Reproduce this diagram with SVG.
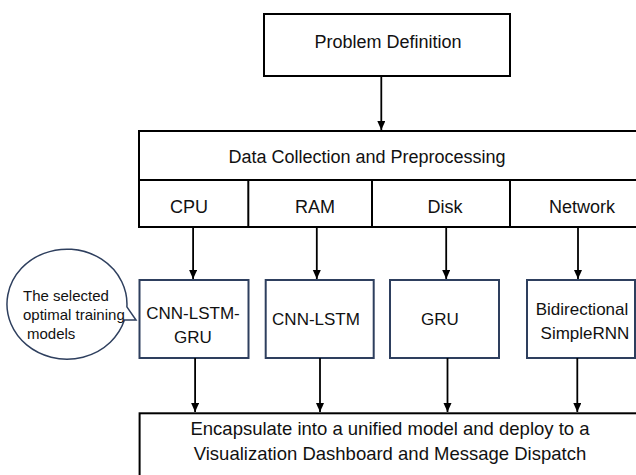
<svg xmlns="http://www.w3.org/2000/svg" width="636" height="475" viewBox="0 0 636 475">
<defs>
<style>
.box{fill:#fff;stroke:#000;stroke-width:2}
.mbox{fill:#fff;stroke:#2e3f5e;stroke-width:2}
.div{fill:none;stroke:#000;stroke-width:2}
.t{font-family:"Liberation Sans",Arial,sans-serif;fill:#111;text-anchor:middle}
.t18{font-size:18px}
.t17{font-size:17px}
.t15{font-size:15px;text-anchor:start}
.edge{fill:none;stroke:#000;stroke-width:1.8}
</style>
<marker id="ah" markerUnits="userSpaceOnUse" markerWidth="10" markerHeight="9" refX="9" refY="4" orient="auto">
<path d="M0,0 L9,4 L0,8 Z" fill="#000"/>
</marker>
</defs>
<rect width="636" height="475" fill="#fff"/>

<g id="problem-definition">
<rect class="box" x="264" y="14" width="246" height="62"/>
<text class="t t18" x="388" y="48">Problem Definition</text>
</g>

<g id="data-collection">
<rect class="box" x="139" y="131" width="510" height="96"/>
<line class="div" x1="139" y1="180" x2="649" y2="180"/>
<line class="div" x1="248.3" y1="180" x2="248.3" y2="227"/>
<line class="div" x1="372" y1="180" x2="372" y2="227"/>
<line class="div" x1="510" y1="180" x2="510" y2="227"/>
<text class="t t18" x="367" y="163">Data Collection and Preprocessing</text>
</g>
<g id="cpu"><text class="t t18" x="189" y="213">CPU</text></g>
<g id="ram"><text class="t t18" x="315" y="213">RAM</text></g>
<g id="disk"><text class="t t18" x="445" y="213">Disk</text></g>
<g id="network"><text class="t t18" x="582" y="213">Network</text></g>

<g id="cnn-lstm-gru">
<rect class="mbox" x="139.5" y="280" width="109" height="78"/>
<text class="t t17" x="193" y="319">CNN-LSTM-</text>
<text class="t t17" x="193" y="343">GRU</text>
</g>
<g id="cnn-lstm">
<rect class="mbox" x="265.7" y="280" width="108" height="78"/>
<text class="t t17" x="316" y="325">CNN-LSTM</text>
</g>
<g id="gru">
<rect class="mbox" x="390" y="280" width="109" height="78"/>
<text class="t t17" x="440" y="325">GRU</text>
</g>
<g id="bidirectional-simplernn">
<rect class="mbox" x="527" y="280" width="108" height="78"/>
<text class="t t17" x="582" y="315">Bidirectional</text>
<text class="t t17" x="585" y="339">SimpleRNN</text>
</g>

<g id="callout">
<path d="M126.9,306.9 L136,320 L124.4,320.1 A60 55 0 1 1 126.9,306.9 Z" fill="#fff" stroke="#2e3f5e" stroke-width="1.5"/>
<text class="t t15" x="23" y="301">The selected</text>
<text class="t t15" x="23" y="320">optimal training</text>
<text class="t t15" x="27" y="339">models</text>
</g>

<g id="deploy">
<rect class="box" x="139.6" y="413.3" width="510" height="80"/>
<text class="t" style="font-size:18.5px" x="390" y="435">Encapsulate into a unified model and deploy to a</text>
<text class="t" style="font-size:18.5px" x="390" y="460">Visualization Dashboard and Message Dispatch</text>
</g>

<g id="connectors">
<line class="edge" x1="381.3" y1="76" x2="381.3" y2="130" marker-end="url(#ah)"/>
<line class="edge" x1="193.1" y1="227" x2="193.1" y2="279" marker-end="url(#ah)"/>
<line class="edge" x1="316.8" y1="227" x2="316.8" y2="279" marker-end="url(#ah)"/>
<line class="edge" x1="446.2" y1="227" x2="446.2" y2="279" marker-end="url(#ah)"/>
<line class="edge" x1="578" y1="227" x2="578" y2="279" marker-end="url(#ah)"/>
<line class="edge" x1="195.1" y1="358" x2="195.1" y2="412" marker-end="url(#ah)"/>
<line class="edge" x1="320" y1="358" x2="320" y2="412" marker-end="url(#ah)"/>
<line class="edge" x1="447.5" y1="358" x2="447.5" y2="412" marker-end="url(#ah)"/>
<line class="edge" x1="577.3" y1="358" x2="577.3" y2="412" marker-end="url(#ah)"/>
</g>
</svg>
